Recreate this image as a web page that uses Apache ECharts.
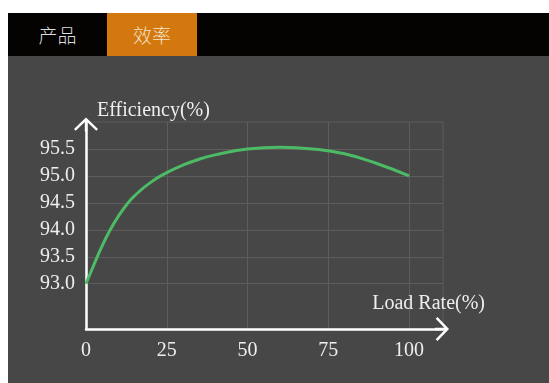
<!DOCTYPE html>
<html>
<head>
<meta charset="utf-8">
<script src="https://cdn.jsdelivr.net/npm/echarts@6/dist/echarts.min.js"></script>
<style>
  html, body { margin: 0; padding: 0; background: #fff; }
  body { width: 549px; height: 383px; position: relative; overflow: hidden; }
  .bar { position: absolute; left: 8px; top: 13px; width: 541px; height: 43px; background: #050302; }
  .tab { position: absolute; top: 0; height: 43px; line-height: 43px; text-align: center;
         font-family: "Noto Sans CJK SC", sans-serif; font-size: 19px; font-weight: 300; }
  .tab1 { left: 0; width: 99px; color: #dcdcdc; }
  .tab2 { left: 99px; width: 90px; background: #d3770f; color: #f4e2c8; }
  #chart { position: absolute; left: 8px; top: 56px; width: 541px; height: 327px; }
</style>
</head>
<body>
<div class="bar">
  <div class="tab tab1">产品</div>
  <div class="tab tab2">效率</div>
</div>
<div id="chart"></div>
<script>
const loadRate = [0, 2.5, 5, 7.5, 10, 12.5, 15, 20, 25, 30, 35, 40, 50, 60, 70, 80, 90, 100];
const efficiency = [93.0, 93.36, 93.7, 94.0, 94.25, 94.46, 94.63, 94.88, 95.06, 95.2, 95.31, 95.39, 95.5, 95.53, 95.5, 95.41, 95.23, 95.0];
const xTicks = [0, 25, 50, 75, 100];
const yTicks = [93.0, 93.5, 94.0, 94.5, 95.0, 95.5];

// open arrow head (chevron with a short shaft)
const arrow = 'path://M12,0 L24,11.5 L22.3,13.3 L13.2,4.6 L13.2,14 L10.8,14 L10.8,4.6 L1.7,13.3 L0,11.5 Z';
const serif = "'Liberation Serif', 'DejaVu Serif', serif";
const textColor = '#eeeeee';
const gridColor = '#5d5d5d';

const chart = echarts.init(document.getElementById('chart'));
chart.setOption({
  backgroundColor: '#464746',
  animation: false,
  grid: { left: 78, top: 66, right: 106, bottom: 54, show: true, borderColor: gridColor, borderWidth: 1 },
  xAxis: {
    type: 'value', min: 0, max: 110.5,
    name: 'Load Rate(%)', nameLocation: 'end', nameGap: 42,
    nameTextStyle: { color: textColor, fontFamily: serif, fontSize: 20, align: 'right', verticalAlign: 'bottom', padding: [0, 0, 15, 0] },
    axisLine: { lineStyle: { color: '#fff', width: 2.5 }, symbol: ['none', arrow], symbolSize: [24, 14], symbolOffset: [0, -1] },
    axisTick: { show: false, customValues: xTicks },
    axisLabel: { color: textColor, fontFamily: serif, fontSize: 20, margin: 12, customValues: xTicks },
    splitLine: { lineStyle: { color: gridColor, width: 1 } }
  },
  yAxis: {
    type: 'value', min: 92.16, max: 96,
    name: 'Efficiency(%)', nameLocation: 'end', nameGap: 1,
    nameTextStyle: { color: textColor, fontFamily: serif, fontSize: 20, align: 'left', verticalAlign: 'bottom', padding: [0, 0, 0, 11] },
    axisLine: { show: true, lineStyle: { color: '#fff', width: 2.5 }, symbol: ['none', arrow], symbolSize: [24, 15], symbolOffset: [0, -2.5] },
    axisTick: { show: false, customValues: yTicks },
    axisLabel: { color: textColor, fontFamily: serif, fontSize: 20, margin: 11, customValues: yTicks, formatter: v => v.toFixed(1) },
    splitLine: { lineStyle: { color: gridColor, width: 1 } }
  },
  series: [{
    type: 'line', smooth: 0.5, symbol: 'none',
    data: loadRate.map((x, i) => [x, efficiency[i]]),
    lineStyle: { color: '#4dbb65', width: 3 }
  }]
});
</script>
</body>
</html>
